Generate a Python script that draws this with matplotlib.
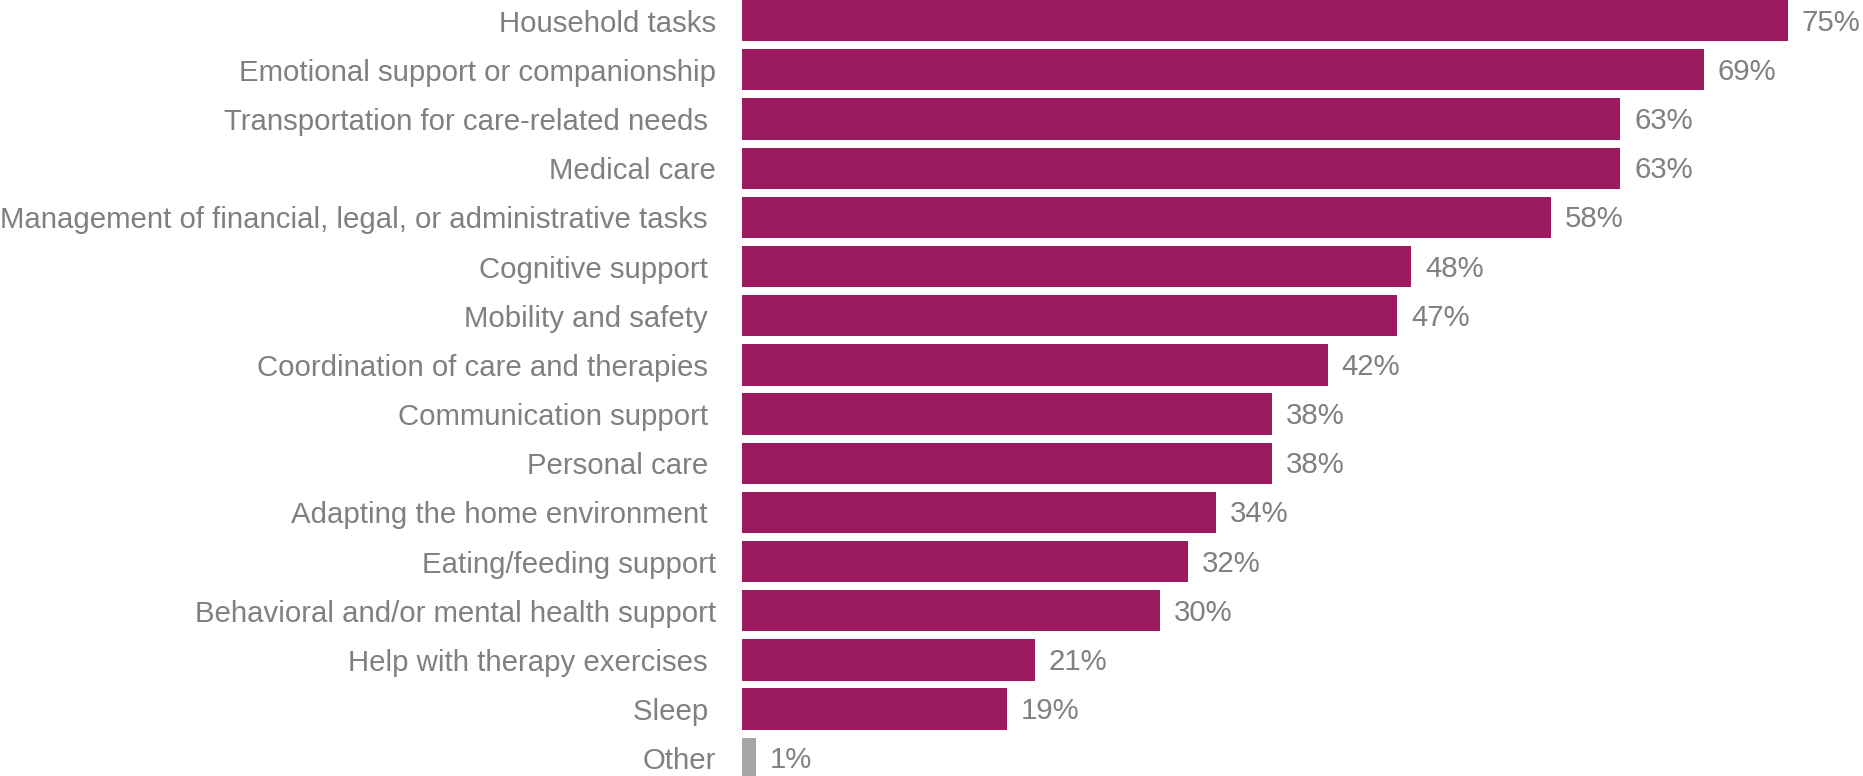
import matplotlib.pyplot as plt

categories = [
    "Household tasks",
    "Emotional support or companionship",
    "Transportation for care-related needs ",
    "Medical care",
    "Management of financial, legal, or administrative tasks ",
    "Cognitive support ",
    "Mobility and safety ",
    "Coordination of care and therapies ",
    "Communication support ",
    "Personal care ",
    "Adapting the home environment ",
    "Eating/feeding support",
    "Behavioral and/or mental health support",
    "Help with therapy exercises ",
    "Sleep ",
    "Other",
]
values = [75, 69, 63, 63, 58, 48, 47, 42, 38, 38, 34, 32, 30, 21, 19, 1]

bar_color = "#9c1a60"
other_color = "#a6a6a6"
text_color = "#808080"

plt.rcParams["font.family"] = ["Liberation Sans", "DejaVu Sans"]

fig = plt.figure(figsize=(18.63, 7.76), dpi=100)
ax = fig.add_axes([742 / 1863, 0, 1 - 742 / 1863, 1])

colors = [other_color if c == "Other" else bar_color for c in categories]
ypos = list(range(len(categories)))
ax.barh(ypos, values, height=0.84, color=colors)

for y, v in zip(ypos, values):
    ax.text(v + 1.0, y + 0.04, f"{v}%", va="center", ha="left",
            fontsize=21.2, color=text_color)

ax.set_yticks(ypos)
ax.set_yticklabels(categories, fontsize=21.2, color=text_color)
ax.tick_params(axis="y", length=0, pad=18.7)
ax.set_xticks([])
ax.set_xlim(0, 80.4)
ax.set_ylim(15.36, -0.42)
for spine in ax.spines.values():
    spine.set_visible(False)

fig.savefig("out.png", dpi=100)
